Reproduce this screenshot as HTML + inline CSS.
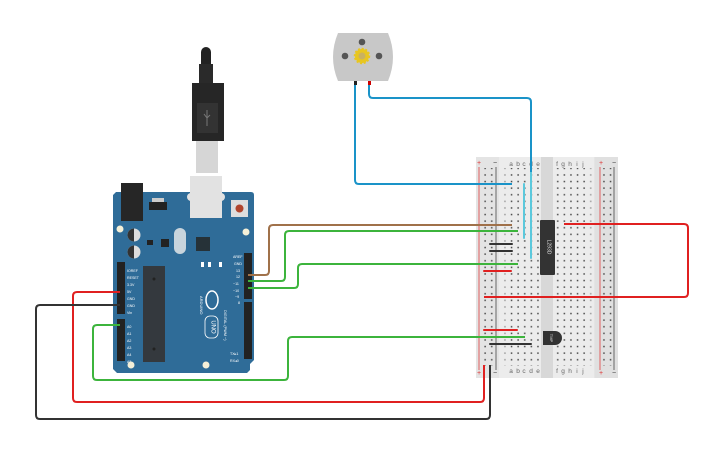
<!DOCTYPE html>
<html><head><style>html,body{margin:0;padding:0;background:#fff;}svg{display:block}</style></head>
<body>
<svg width="725" height="453" viewBox="0 0 725 453" xmlns="http://www.w3.org/2000/svg" font-family="Liberation Sans, sans-serif">
<defs>
<pattern id="dots" x="0" y="0" width="6.6" height="6.6" patternUnits="userSpaceOnUse">
<rect x="2.6" y="2.6" width="1.5" height="1.5" fill="#4a4a4a"/>
</pattern>
</defs>

<!-- Breadboard -->
<rect x="476" y="157" width="142" height="221" fill="#e4e4e4"/>
<rect x="499" y="157" width="42" height="221" fill="#ececec"/>
<rect x="553" y="157" width="41" height="221" fill="#ececec"/>
<rect x="541" y="157" width="12" height="221" fill="#d8d8d8"/>
<rect x="595" y="157" width="23" height="221" fill="#e0e0e0"/>
<line x1="479" y1="167" x2="479" y2="370" stroke="#e06060" stroke-width="1"/>
<line x1="496" y1="167" x2="496" y2="370" stroke="#666" stroke-width="1"/>
<line x1="600" y1="167" x2="600" y2="370" stroke="#e06060" stroke-width="1"/>
<line x1="614" y1="167" x2="614" y2="370" stroke="#666" stroke-width="1"/>
<text x="479" y="165" font-size="7" fill="#d33" text-anchor="middle">+</text>
<text x="495" y="165" font-size="7" fill="#333" text-anchor="middle">−</text>
<text x="601" y="165" font-size="7" fill="#d33" text-anchor="middle">+</text>
<text x="614" y="165" font-size="7" fill="#333" text-anchor="middle">−</text>
<text x="479" y="375" font-size="7" fill="#d33" text-anchor="middle">+</text>
<text x="495" y="375" font-size="7" fill="#333" text-anchor="middle">−</text>
<text x="601" y="375" font-size="7" fill="#d33" text-anchor="middle">+</text>
<text x="614" y="375" font-size="7" fill="#333" text-anchor="middle">−</text>
<g font-size="6.5" fill="#666" text-anchor="middle">
<text x="511" y="166">a</text><text x="518" y="166">b</text><text x="524" y="166">c</text><text x="531" y="166">d</text><text x="538" y="166">e</text>
<text x="557" y="166">f</text><text x="563" y="166">g</text><text x="570" y="166">h</text><text x="577" y="166">i</text><text x="583" y="166">j</text>
<text x="511" y="373">a</text><text x="518" y="373">b</text><text x="524" y="373">c</text><text x="531" y="373">d</text><text x="538" y="373">e</text>
<text x="557" y="373">f</text><text x="563" y="373">g</text><text x="570" y="373">h</text><text x="577" y="373">i</text><text x="583" y="373">j</text>
</g>
<rect x="480.6" y="168" width="13" height="198" fill="url(#dots)"/>
<rect x="507.6" y="168" width="33" height="198" fill="url(#dots)"/>
<rect x="553.6" y="168" width="33" height="198" fill="url(#dots)"/>
<rect x="599" y="168" width="13" height="198" fill="url(#dots)"/>
<rect x="502" y="168" width="4" height="198" fill="url(#dots)" opacity="0.5"/>
<rect x="588" y="168" width="4" height="198" fill="url(#dots)" opacity="0.5"/>

<!-- L293D chip -->
<rect x="540" y="220" width="15" height="55" rx="1" fill="#333"/>
<text x="547.5" y="247" font-size="5" fill="#ddd" text-anchor="middle" transform="rotate(90 547.5 247)">L293D</text>
<!-- TMP sensor -->
<path d="M543 331 h12 a7 7 0 0 1 0 14 h-12 z" fill="#333"/>
<text x="550" y="338" font-size="4" fill="#ddd" text-anchor="middle" transform="rotate(90 550 338)">TMP</text>

<g stroke-width="2" fill="none" stroke-linecap="round">
<line x1="490" y1="244" x2="512" y2="244" stroke="#333"/>
<line x1="490" y1="251" x2="512" y2="251" stroke="#333"/>
<line x1="484" y1="271" x2="511" y2="271" stroke="#e02020"/>
<line x1="484" y1="330" x2="517" y2="330" stroke="#e02020"/>
<line x1="490" y1="344" x2="531" y2="344" stroke="#333"/>
<line x1="524" y1="184" x2="524" y2="238" stroke="#5bc8dc"/>
<line x1="531" y1="172" x2="531" y2="258" stroke="#5bc8dc"/>
</g>

<!-- Motor -->
<path d="M338 33 h50 q10 24 0 48 h-50 q-10 -24 0 -48 z" fill="#c8c8c8"/>
<circle cx="362" cy="42" r="3.3" fill="#555"/>
<circle cx="345" cy="56" r="3.3" fill="#555"/>
<circle cx="379" cy="56" r="3.3" fill="#555"/>
<circle cx="362" cy="56" r="7" fill="#e8c620" stroke="#e8c620" stroke-width="2.5" stroke-dasharray="2 1.6"/>
<circle cx="362" cy="56" r="3.5" fill="#c9b160"/>
<rect x="354" y="81" width="3" height="4" fill="#222"/>
<rect x="368" y="81" width="3" height="4" fill="#c00"/>

<!-- USB cable -->
<path d="M201 52 a5 5 0 0 1 10 0 v14 h-10 z" fill="#222"/>
<rect x="199" y="64" width="14" height="20" fill="#2a2a2a"/>
<path d="M192 83 h32 v58 h-32 z" fill="#262626"/>
<rect x="197" y="103" width="21" height="30" fill="#333"/>
<path d="M207 110 v16 M204 114 l3 4 l3-3" stroke="#777" stroke-width="1" fill="none"/>
<rect x="196" y="141" width="22" height="32" fill="#d6d6d6"/>

<!-- Arduino board -->
<path d="M116 192 h135 q3 0 3 3 v165 l-4 4 v6 l-3 3 h-130 l-4-4 v-174 z" fill="#2f6c98"/>
<rect x="121" y="183" width="22" height="38" fill="#262626"/>
<rect x="190" y="176" width="32" height="42" fill="#e2e2e2"/>
<rect x="187" y="193" width="38" height="8" rx="4" fill="#e2e2e2"/>
<rect x="231" y="200" width="17" height="17" fill="#ddd"/>
<circle cx="239.5" cy="208.5" r="4" fill="#b0442c"/>
<rect x="149" y="202" width="18" height="8" fill="#222"/>
<rect x="152" y="198" width="12" height="4" fill="#ccc"/>
<circle cx="120" cy="229" r="3.5" fill="#f5f0d8"/>
<circle cx="246" cy="232" r="3.5" fill="#f5f0d8"/>
<circle cx="134" cy="235" r="6.5" fill="#ddd"/><path d="M134 228.5 a6.5 6.5 0 0 0 0 13 z" fill="#333"/>
<circle cx="134" cy="252" r="6.5" fill="#ddd"/><path d="M134 245.5 a6.5 6.5 0 0 0 0 13 z" fill="#333"/>
<rect x="174" y="228" width="12" height="26" rx="6" fill="#c8d4dc"/>
<rect x="161" y="239" width="8" height="8" fill="#222"/>
<rect x="196" y="237" width="14" height="14" fill="#263238"/>
<rect x="147" y="240" width="6" height="5" fill="#222"/>
<rect x="143" y="266" width="22" height="96" fill="#34393e"/>
<circle cx="154" cy="279" r="1.5" fill="#222"/><circle cx="154" cy="349" r="1.5" fill="#222"/>
<rect x="244" y="253" width="8" height="46" fill="#222"/>
<rect x="244" y="302" width="8" height="57" fill="#222"/>
<rect x="117" y="262" width="8" height="52" fill="#222"/>
<rect x="117" y="319" width="8" height="42" fill="#222"/>
<g font-size="3.6" fill="#fff">
<text x="233" y="258">AREF</text><text x="234" y="265">GND</text><text x="236" y="272">13</text><text x="236" y="278">12</text><text x="233" y="285">~11</text><text x="233" y="292">~10</text><text x="235" y="298">~9</text><text x="238" y="304">8</text>
<text x="127" y="272">IOREF</text><text x="127" y="279">RESET</text><text x="127" y="286">3.3V</text><text x="127" y="293">5V</text><text x="127" y="300">GND</text><text x="127" y="307">GND</text><text x="127" y="314">Vin</text>
<text x="127" y="328">A0</text><text x="127" y="335">A1</text><text x="127" y="342">A2</text><text x="127" y="349">A3</text><text x="127" y="356">A4</text><text x="127" y="363">A5</text>
<text x="230" y="355">TX▸1</text><text x="230" y="362">RX◂0</text>
</g>
<g fill="#fff">
<rect x="201" y="262" width="3" height="5"/><rect x="208" y="262" width="3" height="5"/><rect x="219" y="262" width="3" height="5"/>
</g>
<ellipse cx="212" cy="300" rx="6" ry="9" fill="none" stroke="#fff" stroke-width="1.5"/>
<text x="200" y="296" font-size="4" fill="#fff" transform="rotate(90 200 296)">ARDUINO</text>
<rect x="205" y="316" width="13" height="22" rx="5" fill="none" stroke="#fff" stroke-width="0.8"/>
<text x="211.5" y="327" font-size="6" fill="#fff" text-anchor="middle" transform="rotate(90 211.5 327)">UNO</text>
<text x="224" y="310" font-size="3.8" fill="#fff" transform="rotate(90 224 310)">DIGITAL (PWM ~)</text>
<circle cx="131" cy="365" r="3.5" fill="#f5f0d8"/>
<circle cx="206" cy="365" r="3.5" fill="#f5f0d8"/>

<!-- wires -->
<g fill="none" stroke-width="2" stroke-linejoin="round">
<path d="M355 85 V180 q0 4 4 4 H512" stroke="#1a93c8"/>
<path d="M369 85 V94 q0 4 4 4 H527 q4 0 4 4 V172" stroke="#1a93c8"/>
<path d="M248 275 H265 q4 0 4 -4 V229 q0 -4 4 -4 H512" stroke="#a0714a"/>
<path d="M248 281 H281 q4 0 4 -4 V235 q0 -4 4 -4 H518" stroke="#3cb43c"/>
<path d="M248 288 H294 q4 0 4 -4 V268 q0 -4 4 -4 H518" stroke="#3cb43c"/>
<path d="M120 292 H77 q-4 0 -4 4 V398 q0 4 4 4 H480 q4 0 4 -4 V365" stroke="#e02020"/>
<path d="M120 305 H40 q-4 0 -4 4 V415 q0 4 4 4 H486 q4 0 4 -4 V365" stroke="#333"/>
<path d="M120 325 H97 q-4 0 -4 4 V376 q0 4 4 4 H284 q4 0 4 -4 V341 q0 -4 4 -4 H525" stroke="#3cb43c"/>
<path d="M564 224 H684 q4 0 4 4 V293 q0 4 -4 4 H484" stroke="#e02020"/>
</g>
</svg>
</body></html>
